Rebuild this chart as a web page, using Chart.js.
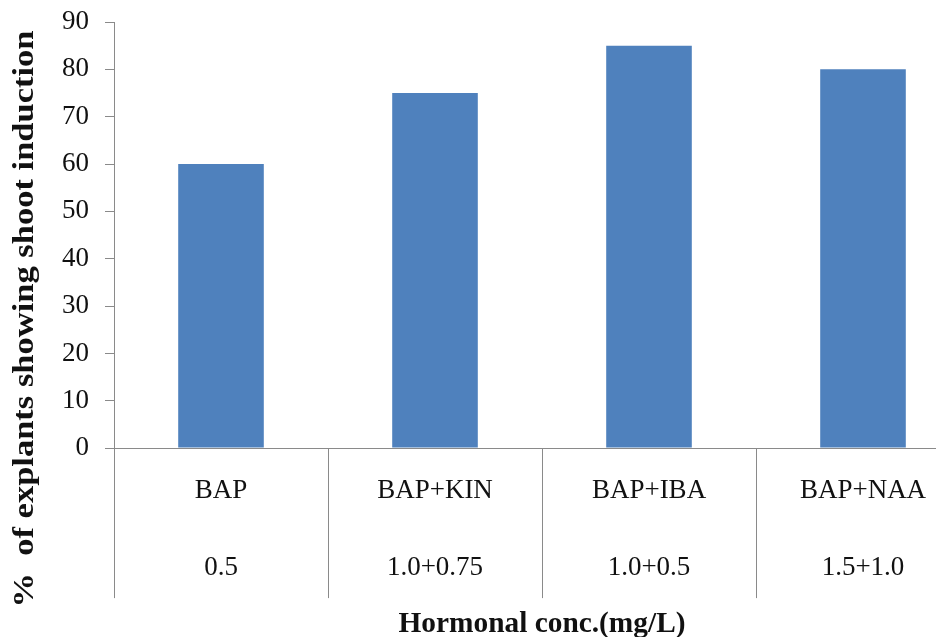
<!DOCTYPE html>
<html>
<head>
<meta charset="utf-8">
<script src="https://cdn.jsdelivr.net/npm/chart.js@4.4.1/dist/chart.umd.min.js"></script>
<style>
    html, body { margin: 0; padding: 0; background: #fff; overflow: hidden; }
    #wrap { width: 980px; height: 637px; }
</style>
</head>
<body>
<div id="wrap"><canvas id="myChart" width="980" height="637"></canvas></div>
<script>
// chart data
const hormones = ['BAP', 'BAP+KIN', 'BAP+IBA', 'BAP+NAA'];
const concentrations = ['0.5', '1.0+0.75', '1.0+0.5', '1.5+1.0'];
const shootInduction = [60, 75, 85, 80];
const yTicks = [0, 10, 20, 30, 40, 50, 60, 70, 80, 90];

const yTitle = '%  of explants showing shoot induction';
const xTitle = 'Hormonal conc.(mg/L)';
const serif = "'Liberation Serif', 'Times New Roman', serif";
const axisGray = '#8a8a8a';

// two-line category labels: hormone on top, concentration below
const labels = hormones.map((h, i) => [h, concentrations[i]]);

// separators between categories + axis titles
const extras = {
    id: 'extras',
    afterDraw(chart) {
        const ctx = chart.ctx;
        const x = chart.scales.x;
        const area = chart.chartArea;
        ctx.save();
        ctx.strokeStyle = axisGray;
        ctx.lineWidth = 1;
        for (let i = 0; i <= hormones.length; i++) {
            const px = Math.round(x.getPixelForValue(i - 0.5)) + 0.5;
            ctx.beginPath();
            ctx.moveTo(px, area.bottom);
            ctx.lineTo(px, area.bottom + 150);
            ctx.stroke();
        }

        ctx.fillStyle = '#111';
        ctx.font = 'bold 29px ' + serif;
        ctx.textAlign = 'center';
        ctx.textBaseline = 'alphabetic';

        // y title, rotated, stretched to the reference length
        const yw = ctx.measureText(yTitle).width;
        ctx.save();
        ctx.translate(33, 319);
        ctx.rotate(-Math.PI / 2);
        ctx.scale(577 / yw, 1);
        ctx.fillText(yTitle, 0, 0);
        ctx.restore();

        // x title
        ctx.font = 'bold 30px ' + serif;
        const xw = ctx.measureText(xTitle).width;
        ctx.save();
        ctx.translate((area.left + area.right) / 2, 632);
        ctx.scale(287 / xw, 1);
        ctx.fillText(xTitle, 0, 0);
        ctx.restore();
        ctx.restore();
    }
};

const ctx = document.getElementById('myChart').getContext('2d');
const chart = new Chart(ctx, {
    type: 'bar',
    data: {
        labels: labels,
        datasets: [{
            label: 'Shoot induction',
            data: shootInduction,
            backgroundColor: '#4f81bd',
            borderWidth: 0,
            barPercentage: 0.4,
            categoryPercentage: 1.0
        }]
    },
    options: {
        responsive: false,
        animation: false,
        layout: {
            padding: { top: 22, left: 46, right: 10, bottom: 27 }
        },
        plugins: {
            legend: { display: false },
            tooltip: { enabled: false }
        },
        scales: {
            x: {
                offset: true,
                grid: { display: false, drawTicks: false },
                border: { color: axisGray, width: 1 },
                ticks: {
                    color: '#111',
                    padding: 4,
                    font: { family: serif, size: 27, lineHeight: 2.85 }
                },
                afterFit: (axis) => {
                    axis.paddingLeft = 0;
                    axis.paddingRight = 0;
                }
            },
            y: {
                min: 0,
                max: 90,
                afterBuildTicks: (axis) => {
                    axis.ticks = yTicks.map(v => ({ value: v }));
                },
                afterFit: (axis) => {
                    axis.paddingTop = 0;
                    axis.paddingBottom = 0;
                },
                grid: { drawOnChartArea: false, tickLength: 9, color: axisGray },
                border: { color: axisGray, width: 1 },
                ticks: {
                    color: '#111',
                    padding: 16,
                    font: { family: serif, size: 27 }
                }
            }
        }
    },
    plugins: [extras]
});
</script>
</body>
</html>
